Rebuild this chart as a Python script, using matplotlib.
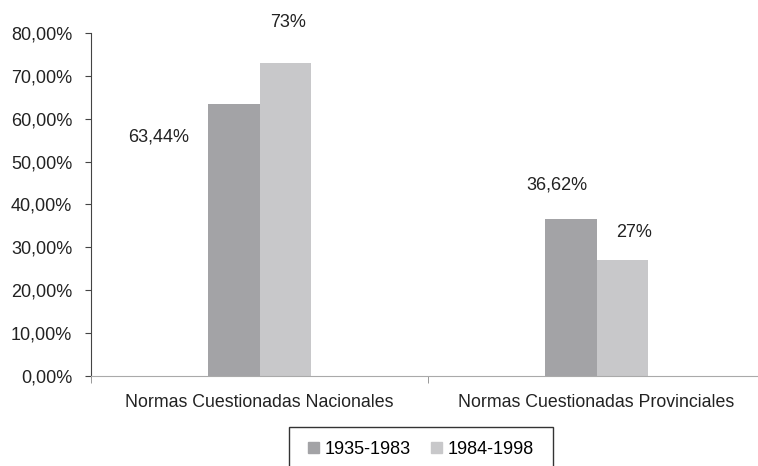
import matplotlib
matplotlib.use("Agg")
import matplotlib.pyplot as plt
from matplotlib.patches import Patch, Rectangle

plt.rcParams['font.family'] = ['Liberation Sans', 'DejaVu Sans']

categories = ["Normas Cuestionadas Nacionales", "Normas Cuestionadas Provinciales"]
series = ["1935-1983", "1984-1998"]
v1935 = [63.44, 36.62]
v1984 = [73.0, 27.0]
labels1935 = ["63,44%", "36,62%"]
labels1984 = ["73%", "27%"]
yticks = [0, 10, 20, 30, 40, 50, 60, 70, 80]

c1 = "#a3a3a6"
c2 = "#c8c8ca"
tc = "#222222"
fs = 13

fig = plt.figure(figsize=(7.58, 4.66), dpi=100)
W, H = 758, 466
left, right, top, bottom = 91, 758, 33, 376
ax = fig.add_axes([left / W, 1 - bottom / H, (right - left) / W, (bottom - top) / H])

bw = 0.153
x = [0, 1]
ax.bar([i - bw / 2 for i in x], v1935, width=bw, color=c1)
ax.bar([i + bw / 2 for i in x], v1984, width=bw, color=c2)

ax.set_ylim(0, 80)
ax.set_xlim(-0.5, 1.479)
ax.set_yticks(yticks)
ax.set_yticklabels([f"{t},00%" for t in yticks], fontsize=fs, color=tc)
ax.set_xticks([0, 1.0])
ax.set_xticklabels(categories, fontsize=12.8, color=tc)
ax.set_xticks([-0.5, 0.5], minor=True)
ax.tick_params(axis='x', which='major', length=0, pad=13)
ax.tick_params(axis='x', which='minor', length=5, color="#888888")
ax.tick_params(axis='y', length=4.5, color="#444444", pad=9)

for s in ["top", "right"]:
    ax.spines[s].set_visible(False)
ax.spines["left"].set_color("#444444")
ax.spines["bottom"].set_color("#aaaaaa")

def lab(text, xp, yp, dx, dy):
    ax.annotate(text, (xp, yp), xytext=(dx, dy), textcoords="offset pixels",
                ha="center", va="center", fontsize=fs, color=tc, annotation_clip=False)

lab(labels1935[0], x[0] - bw / 2, v1935[0], -75, -33)
lab(labels1984[0], x[0] + bw / 2, v1984[0], 3, 41)
lab(labels1935[1], x[1] - bw / 2, v1935[1], -14, 34)
lab(labels1984[1], x[1] + bw / 2, v1984[1], 11.5, 28)

# legend frame (box continues below the image edge, as in the reference)
fig.patches.append(Rectangle((289 / W, -0.05), (553 - 289) / W, (1 - 427 / H) + 0.05,
                             transform=fig.transFigure, fill=False, edgecolor="#333333",
                             linewidth=1.0))
handles = [Patch(color=c1, label=series[0]), Patch(color=c2, label=series[1])]
fig.legend(handles=handles, loc="upper left", bbox_to_anchor=(308 / W, 1 - 441 / H),
           ncol=2, frameon=False, fontsize=fs, handlelength=0.62, handleheight=0.62,
           handletextpad=0.3, columnspacing=1.1, borderpad=0, borderaxespad=0)

fig.savefig("out.png", dpi=100)
